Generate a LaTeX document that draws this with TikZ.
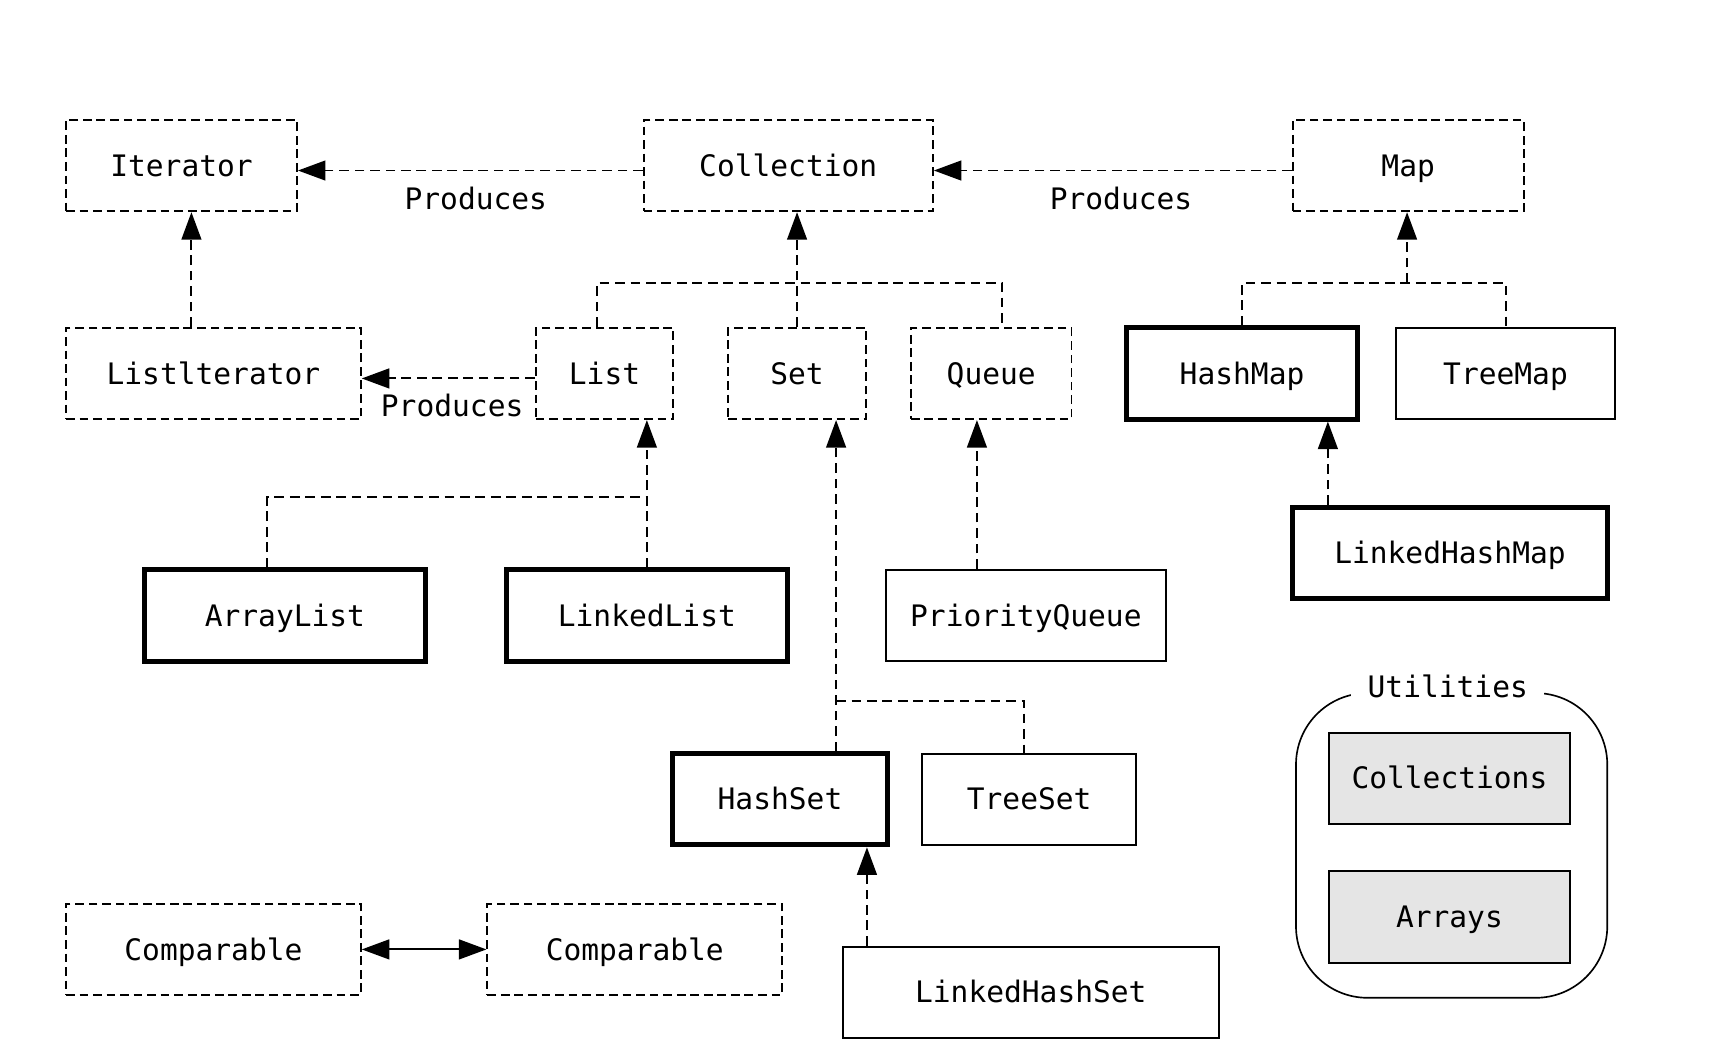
\documentclass[tikz,border=0pt]{standalone}
\usepackage{fontspec}
\setmonofont{DejaVu Sans Mono}
\usetikzlibrary{arrows.meta}

\begin{document}
\begin{tikzpicture}[x=0.02cm, y=-0.02cm,
    font=\ttfamily\fontsize{15.3}{18}\selectfont,
    box/.style={minimum height=1.66cm, inner sep=0pt, text height=11pt, text depth=0pt},
    iface/.style={box, draw, line width=1pt, dash pattern=on 4.5pt off 2.5pt},
    impl/.style={box, draw, line width=1.1pt},
    main/.style={box, draw, line width=2.5pt},
    util/.style={box, draw, line width=1pt, fill=gray!20},
    link/.style={line width=1pt, dash pattern=on 5pt off 3pt},
    >={Triangle[length=0.5cm,width=0.36cm]}]
      \useasboundingbox (0,0) rectangle (1568,963);
      \draw
        (165,150.5) node[iface, minimum width=4.2cm] (iterator){Iterator}
        (716.5,150.5) node[iface, minimum width=5.26cm] (collection){Collection}
        (1280,150.5) node[iface, minimum width=4.2cm] (map){Map}
        (194,339.5) node[iface, minimum width=5.36cm] (listiter){Listlterator}
        (549.5,339.5) node[iface, minimum width=2.5cm] (list){List}
        (724.5,339.5) node[iface, minimum width=2.5cm] (set){Set}
        (901,339.5) node[iface, minimum width=2.92cm] (queue){Queue}
        (1129,339.5) node[main, minimum width=4.2cm] (hashmap){HashMap}
        (1368.5,339.5) node[impl, minimum width=3.98cm] (treemap){TreeMap}
        (259,559.5) node[main, minimum width=5.12cm] (arraylist){ArrayList}
        (588,559.5) node[main, minimum width=5.12cm] (linkedlist){LinkedList}
        (932.5,559.5) node[impl, minimum width=5.1cm] (pqueue){PriorityQueue}
        (1318,502.5) node[main, minimum width=5.72cm] (lhmap){LinkedHashMap}
        (709,726.5) node[main, minimum width=3.92cm] (hashset){HashSet}
        (935.5,726.5) node[impl, minimum width=3.9cm] (treeset){TreeSet}
        (937,902) node[impl, minimum width=6.84cm] (lhset){LinkedHashSet}
        (194,863) node[iface, minimum width=5.36cm] (comp1){Comparable}
        (577,863) node[iface, minimum width=5.36cm] (comp2){Comparable}
        (1319.5,768.5) node[draw, line width=0.85pt, rounded corners=1.3cm,
          minimum width=5.66cm, minimum height=5.54cm] (utilities){}
        (1317.5,707.5) node[util, minimum width=4.38cm] (collections){Collections}
        (1317.5,833.5) node[util, minimum width=4.38cm] (arrays){Arrays};
      \node[fill=white, inner xsep=0.3cm, inner ysep=0pt] (utiltitle)
        at ([xshift=-0.07cm, yshift=0.1cm]utilities.north) {Utilities};
      \begin{scope}[link]
        \draw[->] ([yshift=-0.09cm]collection.west) to node[xshift=0.1cm, yshift=-0.5cm]{Produces}
          ([yshift=-0.09cm]iterator.east);
        \draw[->] ([yshift=-0.09cm]map.west) to node[xshift=0.15cm, yshift=-0.5cm]{Produces}
          ([yshift=-0.09cm]collection.east);
        \draw[->] ([yshift=-0.09cm]list.west) to node[xshift=0.07cm, yshift=-0.5cm]{Produces}
          ([yshift=-0.09cm]listiter.east);
        \coordinate (li) at ([xshift=-0.4cm]listiter.north);
        \draw[->] (li) -- (li |- iterator.south);
        % collection hierarchy
        \coordinate (cj) at (727,257);
        \draw ([xshift=-0.13cm]list.north) |- (cj) -| ([xshift=0.2cm]queue.north);
        \draw[->] (set.north) -- (set.north |- collection.south);
        % map hierarchy
        \coordinate (mj) at (1279,257);
        \draw (hashmap.north) |- (mj) -| (treemap.north);
        \draw[->] (mj) -- (mj |- map.south);
        \coordinate (lhm) at ([xshift=-2.22cm]lhmap.north);
        \draw[->] (lhm) -- (lhm |- hashmap.south);
        % list
        \coordinate (lj) at (589,452);
        \draw ([xshift=-0.32cm]arraylist.north) |- (lj);
        \draw[->] (linkedlist.north) -- (linkedlist.north |- list.south);
        % queue
        \coordinate (pq) at ([xshift=-0.89cm]pqueue.north);
        \draw[->] (pq) -- (pq |- queue.south);
        % set
        \coordinate (hs) at ([xshift=1.02cm]hashset.north);
        \coordinate (sj) at (760,637);
        \draw[->] (hs) -- (hs |- set.south);
        \draw (sj) -| ([xshift=-0.09cm]treeset.north);
        \coordinate (lhs) at ([xshift=-2.98cm]lhset.north);
        \draw[->] (lhs) -- (lhs |- hashset.south);
        \draw[<->, solid, line width=1pt] (comp1) -- (comp2);
      \end{scope}
    \end{tikzpicture}
\end{document}
